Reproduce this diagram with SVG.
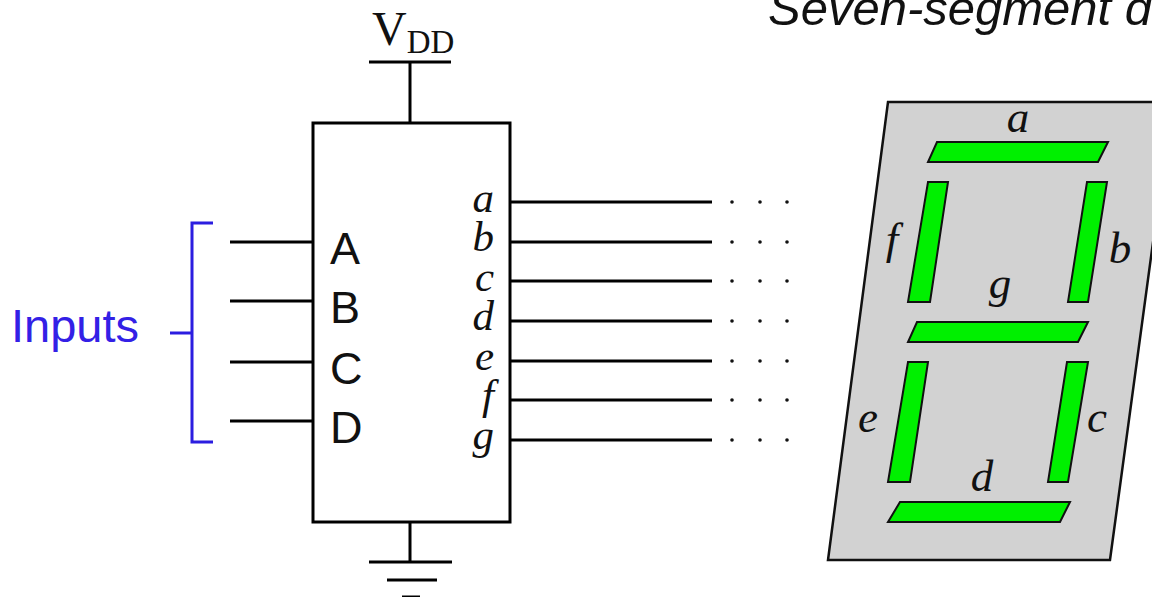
<svg xmlns="http://www.w3.org/2000/svg" width="1152" height="597" viewBox="0 0 1152 597">
  <style>
    .wire { stroke: #000; stroke-width: 3; fill: none; stroke-linecap: butt; }
    .bracket { stroke: #2b1de0; stroke-width: 3; fill: none; }
    .pin { font-family: "Liberation Sans", Arial, sans-serif; font-size: 45px; fill: #111; }
    .out { font-family: "Liberation Serif", "Times New Roman", serif; font-style: italic; font-size: 43px; fill: #111; text-anchor: end; }
    .seglbl { font-family: "Liberation Serif", "Times New Roman", serif; font-style: italic; font-size: 45px; fill: #111; text-anchor: middle; }
    .seg { fill: #00f000; stroke: #111; stroke-width: 2; stroke-linejoin: miter; }
    .dot { fill: #111; }
  </style>

  <!-- title -->
  <text x="768" y="25" font-family="'Liberation Sans', Arial, sans-serif" font-style="italic" font-size="49" fill="#111">Seven-segment display</text>

  <!-- decoder block -->
  <g id="decoder">
    <rect x="313" y="123" width="197" height="399" fill="#fff" stroke="#000" stroke-width="3"/>
    <text class="pin" x="330" y="264">A</text>
    <text class="pin" x="330" y="323">B</text>
    <text class="pin" x="330" y="384">C</text>
    <text class="pin" x="330" y="443">D</text>
    <text class="out" x="494" y="212">a</text>
    <text class="out" x="494" y="251">b</text>
    <text class="out" x="494" y="291">c</text>
    <text class="out" x="494" y="330">d</text>
    <text class="out" x="494" y="370">e</text>
    <text class="out" x="494" y="409">f</text>
    <text class="out" x="494" y="449">g</text>
  </g>

  <!-- supply rail -->
  <g id="vdd">
    <text x="372" y="45" font-family="'Liberation Serif', 'Times New Roman', serif" font-size="48" fill="#111">V<tspan font-size="33" dy="8">DD</tspan></text>
    <line class="wire" x1="369" y1="62" x2="451" y2="62"/>
  </g>

  <!-- ground symbol -->
  <g id="ground">
    <line class="wire" x1="369" y1="562" x2="452" y2="562"/>
    <line class="wire" x1="387" y1="580" x2="437" y2="580"/>
    <line class="wire" x1="402" y1="597" x2="420" y2="597"/>
  </g>

  <!-- input bracket -->
  <g id="inputs">
    <text x="11" y="342" font-family="'Liberation Sans', Arial, sans-serif" font-size="47" fill="#3320e6">Inputs</text>
    <polyline class="bracket" points="213,223 192,223 192,442 213,442"/>
    <line class="bracket" x1="170" y1="333" x2="192" y2="333"/>
  </g>

  <!-- seven-segment display -->
  <g id="display">
    <polygon points="888,102 1172,102 1110,560 828,560" fill="#d2d2d2" stroke="#111" stroke-width="2.5"/>
    <polygon class="seg" points="937,142 1108,142 1098,162 928,162"/>
    <polygon class="seg" points="928,182 948,182 930,302 908,302"/>
    <polygon class="seg" points="1087,182 1107,182 1088,302 1068,302"/>
    <polygon class="seg" points="917,322 1088,322 1078,342 908,342"/>
    <polygon class="seg" points="908,362 928,362 910,482 888,482"/>
    <polygon class="seg" points="1067,362 1088,362 1068,482 1048,482"/>
    <polygon class="seg" points="900,502 1070,502 1060,522 888,522"/>
    <text class="seglbl" x="1018" y="132">a</text>
    <text class="seglbl" x="1120" y="263">b</text>
    <text class="seglbl" x="1097" y="432">c</text>
    <text class="seglbl" x="982" y="491">d</text>
    <text class="seglbl" x="868" y="432">e</text>
    <text class="seglbl" x="892" y="254">f</text>
    <text class="seglbl" x="1000" y="298">g</text>
  </g>

  <!-- connectors -->
  <g id="connectors">
    <line class="wire" x1="410" y1="62" x2="410" y2="123"/>
    <line class="wire" x1="410" y1="522" x2="410" y2="562"/>
    <line class="wire" x1="230" y1="242" x2="313" y2="242"/>
    <line class="wire" x1="230" y1="301" x2="313" y2="301"/>
    <line class="wire" x1="230" y1="362" x2="313" y2="362"/>
    <line class="wire" x1="230" y1="421" x2="313" y2="421"/>
    <line class="wire" x1="510" y1="202" x2="712" y2="202"/>
    <line class="wire" x1="510" y1="242" x2="712" y2="242"/>
    <line class="wire" x1="510" y1="281" x2="712" y2="281"/>
    <line class="wire" x1="510" y1="321" x2="712" y2="321"/>
    <line class="wire" x1="510" y1="361" x2="712" y2="361"/>
    <line class="wire" x1="510" y1="400" x2="712" y2="400"/>
    <line class="wire" x1="510" y1="440" x2="712" y2="440"/>
  </g>

  <!-- continuation dots after each output line -->
  <g id="dots" class="dot">
    <circle cx="732" cy="202" r="1.8"/><circle cx="760" cy="202" r="1.8"/><circle cx="787" cy="202" r="1.8"/>
    <circle cx="732" cy="242" r="1.8"/><circle cx="760" cy="242" r="1.8"/><circle cx="787" cy="242" r="1.8"/>
    <circle cx="732" cy="281" r="1.8"/><circle cx="760" cy="281" r="1.8"/><circle cx="787" cy="281" r="1.8"/>
    <circle cx="732" cy="321" r="1.8"/><circle cx="760" cy="321" r="1.8"/><circle cx="787" cy="321" r="1.8"/>
    <circle cx="732" cy="361" r="1.8"/><circle cx="760" cy="361" r="1.8"/><circle cx="787" cy="361" r="1.8"/>
    <circle cx="732" cy="400" r="1.8"/><circle cx="760" cy="400" r="1.8"/><circle cx="787" cy="400" r="1.8"/>
    <circle cx="732" cy="440" r="1.8"/><circle cx="760" cy="440" r="1.8"/><circle cx="787" cy="440" r="1.8"/>
  </g>
</svg>
